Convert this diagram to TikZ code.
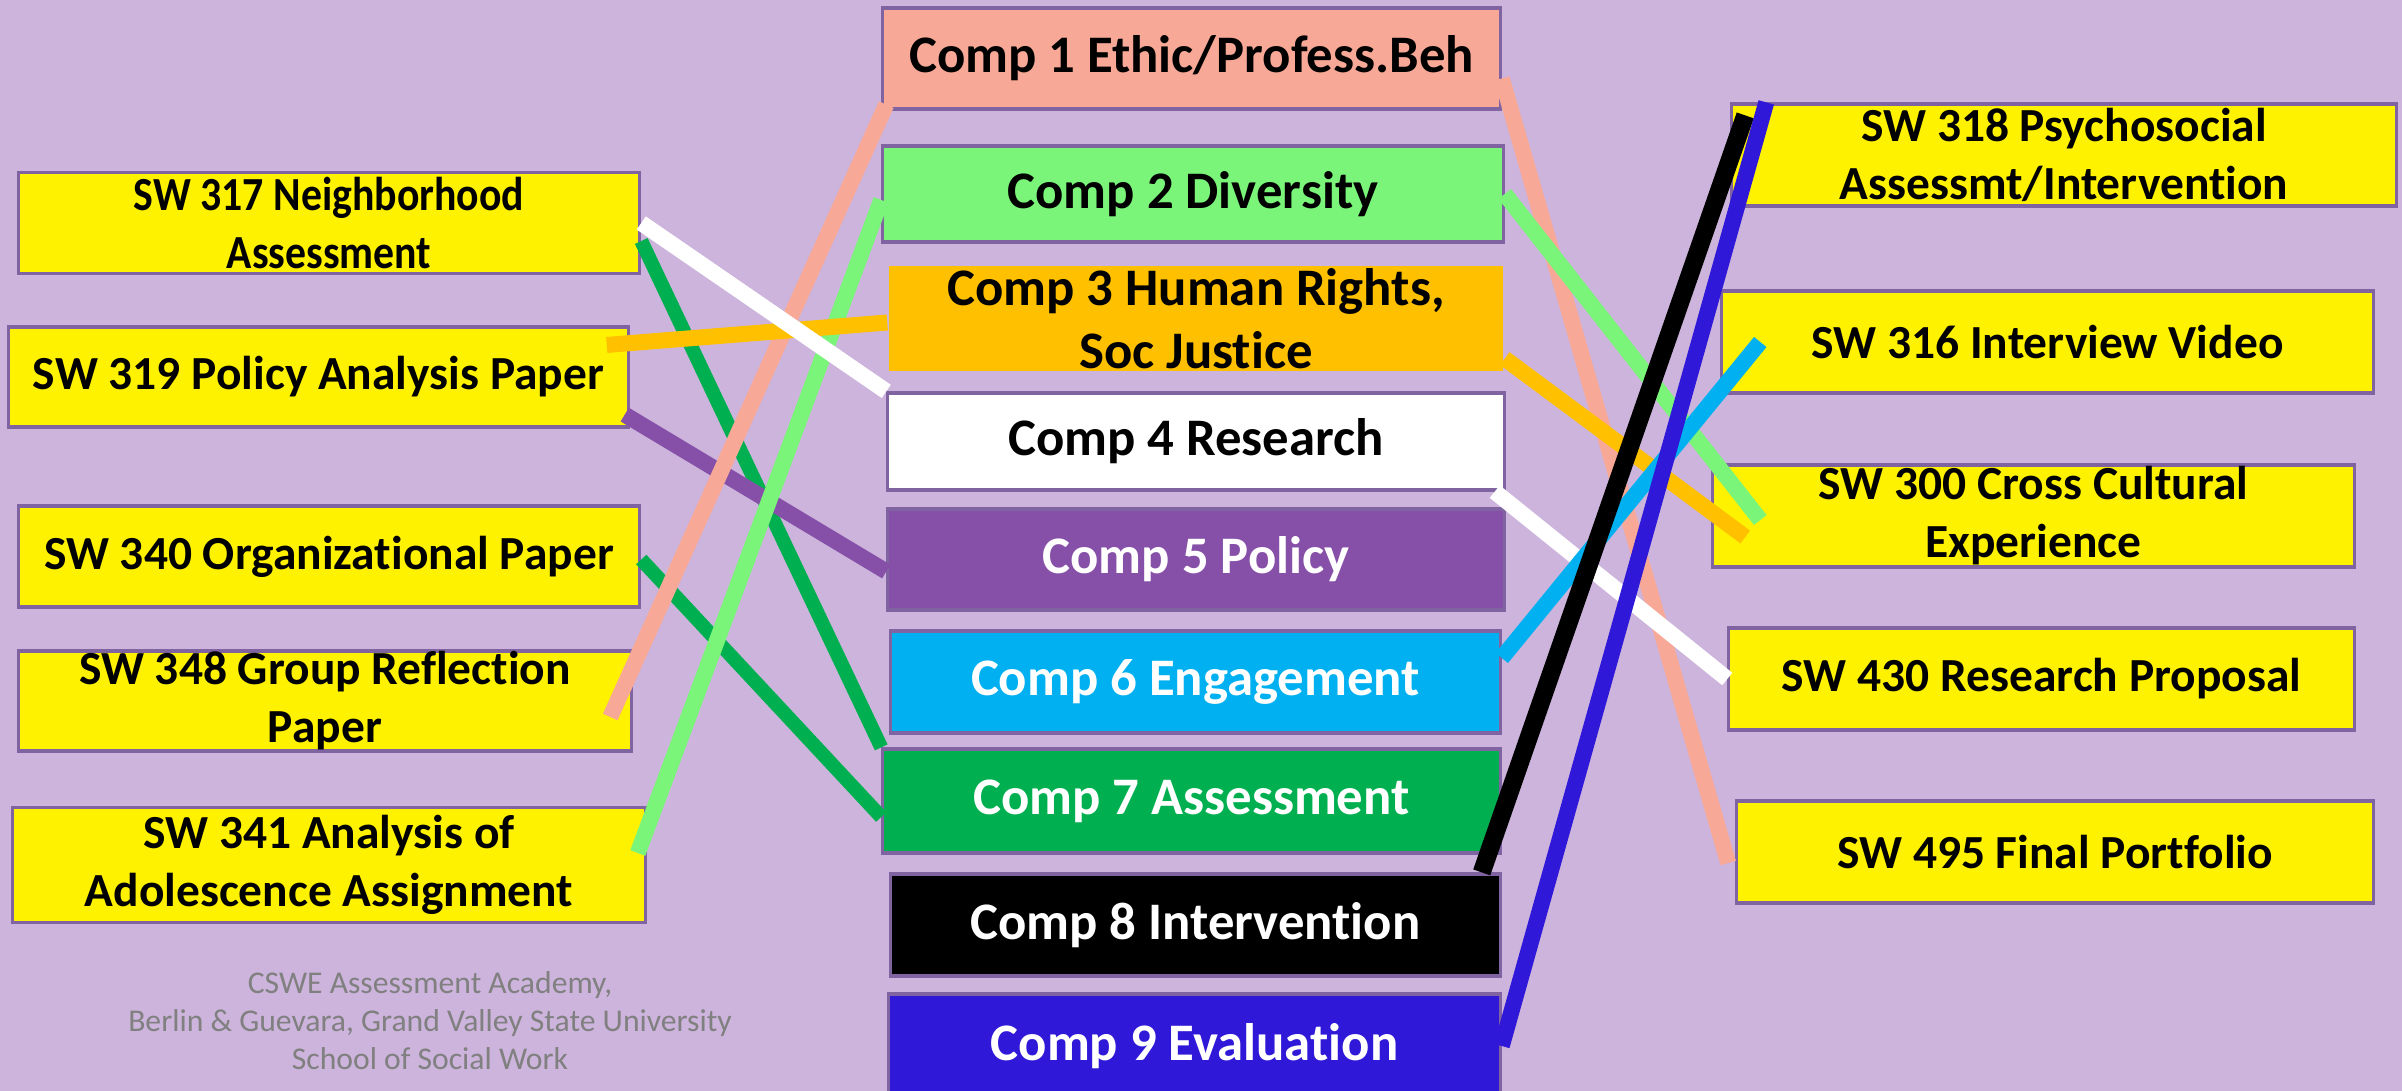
\documentclass[tikz,border=0pt]{standalone}
\usepackage{fontspec}
\setmainfont{Carlito}[Ligatures=NoCommon]
\newfontfamily\narrowfont{Carlito}[FakeStretch=0.88, Ligatures=NoCommon]
\usepackage{tikz}
\usetikzlibrary{positioning,calc}

\definecolor{bglav}{RGB}{205,180,220}
\definecolor{framecol}{RGB}{128,100,162}
\definecolor{ethics}{RGB}{248,168,150}
\definecolor{diverse}{RGB}{122,245,122}
\definecolor{rights}{RGB}{255,192,0}
\definecolor{policy}{RGB}{134,80,168}
\definecolor{engage}{RGB}{0,176,240}
\definecolor{assess}{RGB}{0,176,80}
\definecolor{evaluate}{RGB}{48,24,216}
\definecolor{footgray}{RGB}{128,128,128}

\begin{document}
\begin{tikzpicture}[
            x=0.01cm, y=-0.01cm,
            box/.style={
                rectangle,
                draw=framecol,
                line width=0.9pt,
                inner sep=0pt,
                align=center
            },
            course/.style={
                box,
                fill=yellow,
                font=\bfseries\fontsize{13.5}{16.5}\selectfont
            },
            narrow/.style={
                course,
                font=\narrowfont\bfseries\fontsize{13.5}{16.5}\selectfont
            },
            comp/.style={
                box,
                font=\bfseries\fontsize{15}{18}\selectfont
            },
            link/.style={
                line width=0.16cm
            },
        ]

            \fill[bglav] (0,0) rectangle (2402,1091);
            \useasboundingbox (0,0) rectangle (2402,1091);

            % course work on the left
            \node[narrow, minimum width=6.21cm, minimum height=1.01cm] (sw317) at (329,223) {SW 317 Neighborhood\\ Assessment};
            \node[course, minimum width=6.19cm, minimum height=1.00cm] (sw319) at (318.5,377) {SW 319 Policy Analysis Paper};
            \node[course, minimum width=6.21cm, minimum height=1.01cm] (sw340) at (329,556.5) {SW 340 Organizational Paper};
            \node[course, minimum width=6.13cm, minimum height=1.00cm] (sw348) at (325,701) {SW 348 Group Reflection\\ Paper};
            \node[course, minimum width=6.32cm, minimum height=1.15cm] (sw341) at (329,865) {SW 341 Analysis of\\ Adolescence Assignment};

            % competencies
            \node[comp, fill=ethics, minimum width=6.17cm, minimum height=1.01cm] (c1) at (1191.5,58.5) {Comp 1 Ethic/Profess.Beh};
            \node[comp, fill=diverse, minimum width=6.20cm, minimum height=0.96cm] (c2) at (1193,194) {Comp 2 Diversity};
            \node[comp, fill=rights, draw=none, minimum width=6.14cm, minimum height=1.05cm] (c3) at (1196,318.5) {Comp 3 Human Rights,\\ Soc Justice};
            \node[comp, fill=white, minimum width=6.16cm, minimum height=0.97cm] (c4) at (1196,441.5) {Comp 4 Research};
            \node[comp, fill=policy, text=white, minimum width=6.16cm, minimum height=1.01cm] (c5) at (1196,559.5) {Comp 5 Policy};
            \node[comp, fill=engage, text=white, minimum width=6.09cm, minimum height=1.02cm] (c6) at (1195.5,682) {Comp 6 Engagement};
            \node[comp, fill=assess, text=white, minimum width=6.17cm, minimum height=1.04cm] (c7) at (1191.5,801) {Comp 7 Assessment};
            \node[comp, fill=black, text=white, minimum width=6.09cm, minimum height=1.02cm] (c8) at (1195.5,925) {Comp 8 Intervention};
            \node[comp, fill=evaluate, text=white, minimum width=6.11cm, minimum height=1.04cm] (c9) at (1194.5,1046) {Comp 9 Evaluation};

            % course work on the right
            \node[course, minimum width=6.64cm, minimum height=1.02cm] (sw318) at (2064,155) {SW 318 Psychosocial\\ Assessmt/Intervention};
            \node[course, minimum width=6.51cm, minimum height=1.02cm] (sw316) at (2047.5,342) {SW 316 Interview Video};
            \node[course, minimum width=6.41cm, minimum height=1.02cm] (sw300) at (2033.5,516) {SW 300 Cross Cultural\\ Experience};
            \node[course, minimum width=6.25cm, minimum height=1.02cm] (sw430) at (2041.5,679) {SW 430 Research Proposal};
            \node[course, minimum width=6.36cm, minimum height=1.02cm] (sw495) at (2055,852) {SW 495 Final Portfolio};

            \node[font=\fontsize{9}{10.8}\selectfont, text=footgray, align=center] (credit) at (430,1021) {CSWE Assessment Academy,\\ Berlin \& Guevara, Grand Valley State University\\ School of Social Work};

            % left links
            \draw[link, assess, line width=0.14cm] ([yshift=-0.18cm]sw317.east) -- (c7.north west);
            \draw[link, assess, line width=0.14cm] ([yshift=-0.03cm]sw340.east) -- ([yshift=-0.16cm]c7.west);
            \draw[link, policy] ([shift={(-0.05cm,0.14cm)}]sw319.south east) -- ([yshift=-0.12cm]c5.west);
            \draw[link, ethics] ([shift={(-0.23cm,-0.16cm)}]sw348.east) -- ([shift={(0.05cm,0.06cm)}]c1.south west);
            \draw[link, diverse] ([shift={(-0.09cm,0.12cm)}]sw341.east) -- ([yshift=-0.06cm]c2.west);
            \draw[link, rights] ([shift={(-0.23cm,0.32cm)}]sw319.east) -- ([yshift=-0.04cm]c3.west);
            \draw[link, white] (sw317.east) -- (c4.north west);

            % right links
            \draw[link, ethics] ([yshift=-0.2cm]c1.east) -- ([shift={(-0.07cm,-0.11cm)}]sw495.west);
            \draw[link, diverse] (c2.east) -- ([shift={(0.49cm,-0.04cm)}]sw300.west);
            \draw[link, rights] ([yshift=0.14cm]c3.south east) -- ([shift={(0.34cm,-0.21cm)}]sw300.west);
            \draw[link, white] ([xshift=-0.11cm]c4.south east) -- (sw430.west);
            \draw[link, engage] ([yshift=0.24cm]c6.east) -- ([xshift=0.40cm]sw316.west);
            \draw[link, black, line width=0.18cm] ([xshift=-0.2cm]c8.north east) -- ([shift={(0.15cm,-0.13cm)}]sw318.north west);
            \draw[link, evaluate] (c9.east) -- ([xshift=0.36cm]sw318.north west);
        \end{tikzpicture}
\end{document}
